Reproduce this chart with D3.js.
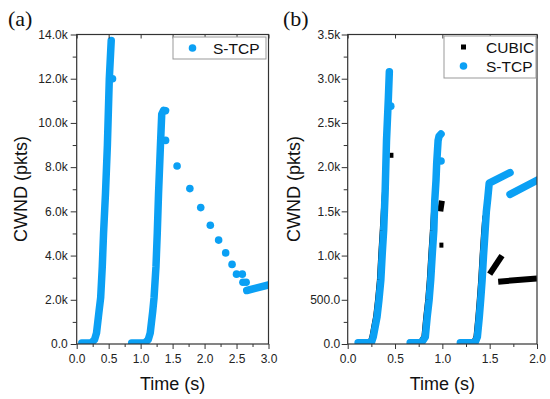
<!DOCTYPE html>
<html>
<head>
<meta charset="utf-8">
<script src="https://cdn.jsdelivr.net/npm/d3@7/dist/d3.min.js"></script>
<style>
  body { margin: 0; background: #fff; }
  svg { display: block; }
  text { font-family: "Liberation Sans", Arial, sans-serif; }
</style>
</head>
<body>
<svg id="chart" width="550" height="399"></svg>
<script>
// ---------------- DATA ----------------
// Panel (a): S-TCP congestion window (pkts) vs time (s)
const aTimeTicks = [0, 0.5, 1.0, 1.5, 2.0, 2.5, 3.0];
const aTimeMinor = [0.25, 0.75, 1.25, 1.75, 2.25, 2.75];
const aCwndTicks = [0, 2000, 4000, 6000, 8000, 10000, 12000, 14000];
const aCwndMinor = [1000, 3000, 5000, 7000, 9000, 11000, 13000];
const aCwndLabels = ["0.0", "2.0k", "4.0k", "6.0k", "8.0k", "10.0k", "12.0k", "14.0k"];

// dense runs of samples (drawn as thick runs of markers)
const aStcpRamp1 = [[0.08, 50], [0.23, 60], [0.28, 200], [0.31, 500], [0.35, 1500], [0.375, 2100],
                    [0.40, 3500], [0.42, 5000], [0.45, 6800], [0.48, 9000], [0.51, 12000], [0.54, 13730]];
const aStcpRamp2 = [[0.86, 50], [1.07, 60], [1.12, 200], [1.15, 500], [1.19, 1500], [1.21, 2100],
                    [1.24, 3500], [1.26, 5000], [1.28, 6800], [1.31, 9000], [1.33, 10400], [1.36, 10570], [1.39, 10550]];
const aStcpTail = [[2.66, 2420], [3.0, 2670]];
// sparse samples
const aStcpDots = [[0.56, 12000], [1.39, 9210], [1.57, 8050], [1.77, 7030], [1.94, 6170], [2.09, 5370],
                   [2.22, 4700], [2.33, 4120], [2.43, 3600], [2.50, 3160], [2.59, 3160], [2.60, 2790], [2.65, 2790]];

// Panel (b): CUBIC and S-TCP
const bTimeTicks = [0, 0.5, 1.0, 1.5, 2.0];
const bTimeMinor = [0.25, 0.75, 1.25, 1.75];
const bCwndTicks = [0, 500, 1000, 1500, 2000, 2500, 3000, 3500];
const bCwndMinor = [250, 750, 1250, 1750, 2250, 2750, 3250];
const bCwndLabels = ["0.0", "500.0", "1.0k", "1.5k", "2.0k", "2.5k", "3.0k", "3.5k"];

const bCubicRamp1 = [[0.10, 15], [0.24, 15], [0.26, 80], [0.28, 195], [0.30, 308], [0.32, 497], [0.34, 723],
                     [0.355, 1024], [0.37, 1287], [0.39, 1663], [0.405, 1900]];
const bCubicRamp2 = [[0.64, 15], [0.77, 15], [0.81, 80], [0.83, 308], [0.85, 497], [0.867, 723],
                     [0.884, 1027], [0.90, 1287], [0.912, 1500]];
const bCubicRamp3 = [[1.18, 15], [1.335, 15], [1.36, 80], [1.38, 300], [1.395, 500], [1.41, 720],
                     [1.425, 1000], [1.44, 1250], [1.455, 1450]];
const bCubicSeg1 = [[0.978, 1500], [0.995, 1620]];
const bCubicSeg2 = [[1.50, 790], [1.63, 1000]];
const bCubicSeg3 = [[1.59, 705], [2.0, 742]];
const bCubicSquares = [[0.462, 2134], [0.99, 1118]];

const bStcpRamp1 = [[0.11, 15], [0.25, 15], [0.27, 80], [0.29, 195], [0.31, 308], [0.33, 497], [0.35, 723],
                    [0.365, 1024], [0.38, 1287], [0.395, 1700], [0.41, 2300], [0.43, 2790], [0.44, 3080]];
const bStcpRamp2 = [[0.66, 15], [0.78, 15], [0.82, 80], [0.84, 308], [0.86, 497], [0.877, 723],
                    [0.894, 1027], [0.91, 1287], [0.92, 1626], [0.933, 1852], [0.94, 2040], [0.955, 2300],
                    [0.965, 2350], [0.986, 2375]];
const bStcpRamp3 = [[1.19, 15], [1.345, 15], [1.37, 80], [1.39, 300], [1.405, 500], [1.42, 720],
                    [1.435, 1000], [1.45, 1250], [1.465, 1500], [1.48, 1650], [1.495, 1820], [1.715, 1938]];
const bStcpTail = [[1.715, 1692], [2.0, 1852]];
const bStcpDots = [[0.455, 2690], [0.986, 2070]];

const BLUE = "#0ba0f4";
const AXIS = "#333";

// ---------------- DRAW ----------------
const svg = d3.select("#chart");

function panel(opt) {
  const x = d3.scaleLinear().domain(opt.xDomain).range([opt.left, opt.right]);
  const y = d3.scaleLinear().domain(opt.yDomain).range([opt.bottom, opt.top]);
  const g = svg.append("g");
  const clipId = "clip" + opt.name;
  svg.append("clipPath").attr("id", clipId).append("rect")
    .attr("x", opt.left).attr("y", opt.top - 6)
    .attr("width", opt.right - opt.left).attr("height", opt.bottom - opt.top + 6);

  const data = g.append("g").attr("clip-path", `url(#${clipId})`);
  const line = d3.line().x(d => x(d[0])).y(d => y(d[1]));

  (opt.cubicRuns || []).forEach(run => {
    data.append("path").attr("d", line(run)).attr("fill", "none")
      .attr("stroke", "#000").attr("stroke-width", 6)
      .attr("stroke-linejoin", "miter").attr("stroke-linecap", "butt");
  });
  (opt.cubicSquares || []).forEach(p => {
    data.append("rect").attr("x", x(p[0]) - 2).attr("y", y(p[1]) - 2.5)
      .attr("width", 4).attr("height", 5).attr("fill", "#000");
  });
  opt.stcpRuns.forEach(run => {
    data.append("path").attr("d", line(run)).attr("fill", "none")
      .attr("stroke", BLUE).attr("stroke-width", 7.5)
      .attr("stroke-linejoin", "round").attr("stroke-linecap", "round");
  });
  data.selectAll("circle.dot").data(opt.stcpDots).join("circle")
    .attr("class", "dot").attr("cx", d => x(d[0])).attr("cy", d => y(d[1]))
    .attr("r", 3.8).attr("fill", BLUE);

  // axes
  const fmtX = d => d3.format(".1f")(d);
  const bottom = g.append("g").attr("transform", `translate(0,${opt.bottom})`)
    .call(d3.axisBottom(x).tickValues(opt.xTicks).tickSize(5).tickPadding(5).tickFormat(fmtX));
  const bottomMinor = g.append("g").attr("transform", `translate(0,${opt.bottom})`)
    .call(d3.axisBottom(x).tickValues(opt.xMinor).tickSize(3).tickFormat(""));
  const top = g.append("g").attr("transform", `translate(0,${opt.top})`)
    .call(d3.axisBottom(x).tickValues(opt.xTicks).tickSize(4).tickFormat(""));
  const left = g.append("g").attr("transform", `translate(${opt.left},0)`)
    .call(d3.axisLeft(y).tickValues(opt.yTicks).tickSize(6).tickPadding(opt.yPad)
      .tickFormat((d, i) => opt.yLabels[i]));
  const leftMinor = g.append("g").attr("transform", `translate(${opt.left},0)`)
    .call(d3.axisLeft(y).tickValues(opt.yMinor).tickSize(4).tickFormat(""));
  [bottom, bottomMinor, top, left, leftMinor].forEach(a => {
    a.select(".domain").remove();
    a.selectAll(".tick line").attr("stroke", AXIS).attr("stroke-width", 1);
    a.selectAll("text").attr("fill", "#222").style("font-size", "12px")
      .style("font-family", "'Liberation Sans', Arial, sans-serif");
  });

  g.append("rect").attr("x", opt.left).attr("y", opt.top)
    .attr("width", opt.right - opt.left).attr("height", opt.bottom - opt.top)
    .attr("fill", "none").attr("stroke", AXIS).attr("stroke-width", 1.2);

  // axis titles
  g.append("text").attr("x", (opt.left + opt.right) / 2).attr("y", 390)
    .attr("text-anchor", "middle").style("font-size", "18px").attr("fill", "#111")
    .text("Time (s)");
  g.append("text").attr("transform", `translate(${opt.yTitleX},189) rotate(-90)`)
    .attr("text-anchor", "middle").style("font-size", "18px").attr("fill", "#111")
    .text("CWND (pkts)");

  // panel label
  g.append("text").attr("x", opt.labelX).attr("y", 26)
    .style("font-family", "'Liberation Serif', 'Times New Roman', serif")
    .style("font-size", "22px").attr("fill", "#111").text(opt.label);

  // legend
  const L = opt.legend;
  const lg = g.append("g");
  lg.append("rect").attr("x", L.x).attr("y", L.y).attr("width", L.w).attr("height", L.h)
    .attr("fill", "#fff").attr("stroke", "#999").attr("stroke-width", 1);
  L.items.forEach((it, i) => {
    const cy = L.y + 11 + i * 19;
    if (it.shape === "square") {
      lg.append("rect").attr("x", L.x + 17).attr("y", cy - 2.5).attr("width", 5).attr("height", 5)
        .attr("fill", "#000");
    } else {
      lg.append("circle").attr("cx", L.x + 19.5).attr("cy", cy).attr("r", 3.8).attr("fill", BLUE);
    }
    lg.append("text").attr("x", L.x + L.textDx).attr("y", cy + 5.5)
      .style("font-size", "15.5px").attr("fill", "#111").text(it.name);
  });
}

panel({
  name: "a", label: "(a)", labelX: 8,
  left: 76.7, right: 268.5, top: 34.5, bottom: 344,
  xDomain: [0, 3], yDomain: [0, 14000],
  xTicks: aTimeTicks, xMinor: aTimeMinor,
  yTicks: aCwndTicks, yMinor: aCwndMinor, yLabels: aCwndLabels, yPad: 3,
  yTitleX: 27,
  stcpRuns: [aStcpRamp1, aStcpRamp2, aStcpTail], stcpDots: aStcpDots,
  legend: { x: 173, y: 37, w: 93, h: 22, textDx: 40, items: [{ name: "S-TCP", shape: "circle" }] }
});

panel({
  name: "b", label: "(b)", labelX: 283,
  left: 347.7, right: 537, top: 34.5, bottom: 344,
  xDomain: [0, 2], yDomain: [0, 3500],
  xTicks: bTimeTicks, xMinor: bTimeMinor,
  yTicks: bCwndTicks, yMinor: bCwndMinor, yLabels: bCwndLabels, yPad: 1.5,
  yTitleX: 300,
  cubicRuns: [bCubicRamp1, bCubicRamp2, bCubicRamp3, bCubicSeg1, bCubicSeg2, bCubicSeg3],
  cubicSquares: bCubicSquares,
  stcpRuns: [bStcpRamp1, bStcpRamp2, bStcpRamp3, bStcpTail], stcpDots: bStcpDots,
  legend: { x: 444, y: 36, w: 92, h: 42, textDx: 42,
            items: [{ name: "CUBIC", shape: "square" }, { name: "S-TCP", shape: "circle" }] }
});
</script>
</body>
</html>
